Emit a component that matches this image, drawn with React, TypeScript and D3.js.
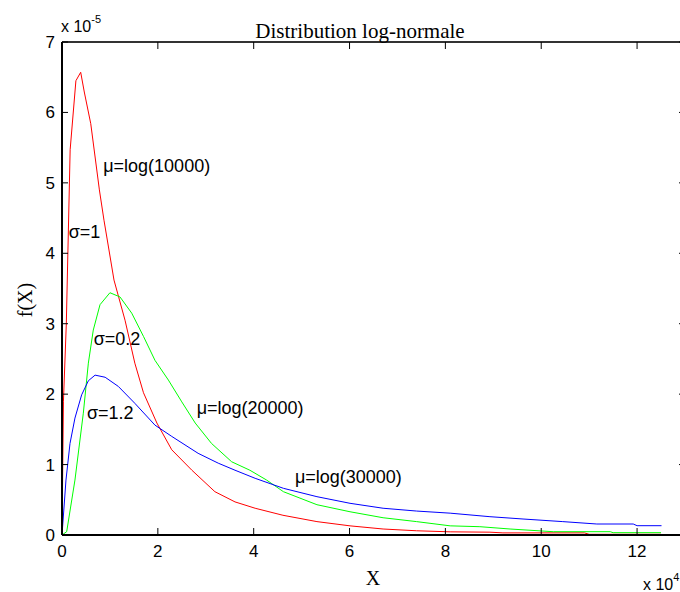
import React from "react";
import * as d3 from "d3";

// x in units of 10^4, y in units of 10^-5
const redX = [0, 0.03, 0.09, 0.17, 0.29, 0.39, 0.465, 0.6, 0.78, 0.876, 1.085, 1.315, 1.52, 1.7, 1.98, 2.29, 2.71, 3.19, 3.61, 4.03, 4.61, 5.32, 6.01, 6.7, 7.4, 8.1, 8.93, 9.2, 10.9, 11.0, 12.5];
const redY = [0, 1.9, 3.0, 5.47, 6.45, 6.57, 6.29, 5.84, 4.9, 4.47, 3.62, 3.05, 2.44, 2.02, 1.59, 1.21, 0.92, 0.615, 0.47, 0.38, 0.28, 0.19, 0.13, 0.085, 0.06, 0.045, 0.04, 0.03, 0.03, 0.01, 0.01];

const greenX = [0, 0.098, 0.27, 0.445, 0.55, 0.653, 0.793, 1.0, 1.21, 1.455, 1.7, 1.94, 2.22, 2.5, 2.78, 3.12, 3.54, 3.92, 4.27, 4.62, 5.32, 6.01, 6.7, 7.4, 8.1, 8.72, 9.35, 10.25, 11.44, 11.5, 12.5];
const greenY = [0, 0.047, 0.78, 1.73, 2.44, 2.91, 3.27, 3.44, 3.38, 3.15, 2.82, 2.48, 2.2, 1.89, 1.59, 1.3, 1.04, 0.92, 0.78, 0.615, 0.43, 0.33, 0.245, 0.19, 0.13, 0.118, 0.085, 0.047, 0.047, 0.033, 0.033];

const blueX = [0, 0.083, 0.167, 0.27, 0.41, 0.55, 0.69, 0.9, 1.175, 1.52, 1.94, 2.29, 2.84, 3.26, 3.61, 4.03, 4.62, 5.32, 6.01, 6.7, 7.4, 8.1, 8.93, 9.62, 10.45, 11.16, 11.92, 12.0, 12.51];
const blueY = [0, 0.78, 1.3, 1.66, 1.99, 2.19, 2.27, 2.24, 2.11, 1.87, 1.56, 1.4, 1.16, 1.02, 0.92, 0.805, 0.663, 0.544, 0.45, 0.38, 0.34, 0.31, 0.26, 0.227, 0.19, 0.156, 0.156, 0.132, 0.132];

const xTicks = [0, 2, 4, 6, 8, 10, 12];
const yTicks = [0, 1, 2, 3, 4, 5, 6, 7];

const labels = [
  { text: "μ=log(10000)", x: 0.86, y: 5.15 },
  { text: "σ=1", x: 0.14, y: 4.22 },
  { text: "σ=0.2", x: 0.66, y: 2.7 },
  { text: "σ=1.2", x: 0.52, y: 1.65 },
  { text: "μ=log(20000)", x: 2.81, y: 1.72 },
  { text: "μ=log(30000)", x: 4.86, y: 0.74 },
];

const series = [
  { xs: redX, ys: redY, color: "#ff0000" },
  { xs: greenX, ys: greenY, color: "#00ff00" },
  { xs: blueX, ys: blueY, color: "#0000ff" },
];

const L = 62, R = 685, T = 42, B = 535;
const sans = "'Liberation Sans', Arial, sans-serif";
const serif = "'Liberation Serif', 'Times New Roman', serif";

export default function App() {
  const x = d3.scaleLinear().domain([0, 13]).range([L, R]);
  const y = d3.scaleLinear().domain([0, 7]).range([B, T]);
  const line = d3.line<[number, number]>().x((d) => x(d[0])).y((d) => y(d[1]));
  return (
    <svg width={680} height={592} style={{ position: "absolute", left: 0, top: 0, background: "#fff" }}>
      <rect x={0} y={0} width={680} height={592} fill="#fff" />
      {series.map((s, i) => (
        <path key={i} d={line(s.xs.map((v, j) => [v, s.ys[j]]) as [number, number][]) || ""} fill="none" stroke={s.color} strokeWidth={1} />
      ))}
      {/* box */}
      <line x1={L} x2={R} y1={T} y2={T} stroke="#333" strokeWidth={2} />
      <line x1={R} x2={R} y1={T} y2={B} stroke="#333" strokeWidth={2} />
      <line x1={L} x2={R} y1={B} y2={B} stroke="#000" strokeWidth={2} />
      <line x1={L} x2={L} y1={T} y2={B} stroke="#000" strokeWidth={2} />
      {xTicks.map((t) => (
        <g key={"x" + t}>
          <line x1={x(t)} x2={x(t)} y1={B} y2={B - 7} stroke="#000" strokeWidth={1} />
          <line x1={x(t)} x2={x(t)} y1={T} y2={T + 7} stroke="#000" strokeWidth={1} />
          <text x={x(t)} y={557} textAnchor="middle" fontFamily={sans} fontSize={17} fill="#000">{t}</text>
        </g>
      ))}
      {yTicks.map((t) => (
        <g key={"y" + t}>
          <line x1={L} x2={L + 6} y1={y(t)} y2={y(t)} stroke="#000" strokeWidth={1} />
          <line x1={R - 6} x2={R} y1={y(t)} y2={y(t)} stroke="#000" strokeWidth={1} />
          <text x={55} y={y(t) + 6} textAnchor="end" fontFamily={sans} fontSize={17} fill="#000">{t}</text>
        </g>
      ))}
      <text x={61} y={32} fontFamily={sans} fontSize={16} fill="#000">x 10<tspan dy={-9} fontSize={11}>-5</tspan></text>
      <text x={643} y={590} fontFamily={sans} fontSize={16} fill="#000">x 10<tspan dy={-9} fontSize={11}>4</tspan></text>
      {labels.map((l, i) => (
        <text key={i} x={x(l.x)} y={y(l.y)} fontFamily={sans} fontSize={18} fill="#000">{l.text}</text>
      ))}
      <text x={360} y={38} textAnchor="middle" fontFamily={serif} fontSize={21} fill="#000">Distribution log-normale</text>
      <text x={373} y={585} textAnchor="middle" fontFamily={serif} fontSize={20} fill="#000">X</text>
      <text transform="translate(32,300) rotate(-90)" textAnchor="middle" fontFamily={serif} fontSize={20} fill="#000">f(X)</text>
    </svg>
  );
}
